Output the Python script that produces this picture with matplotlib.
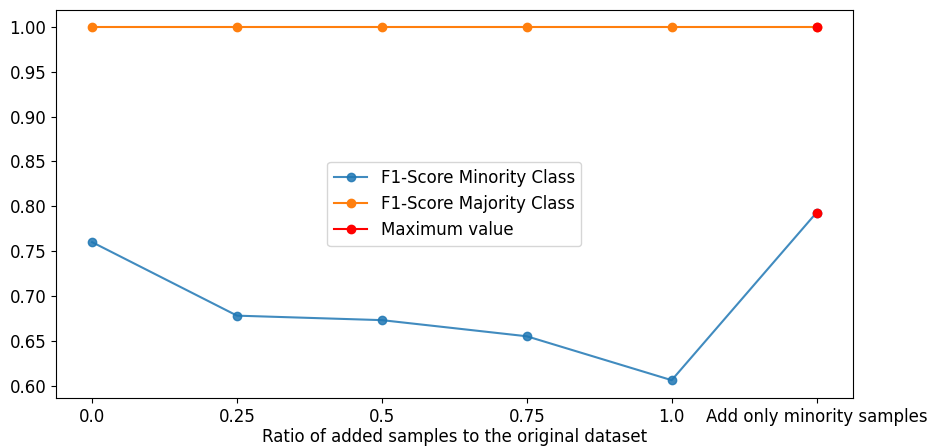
import matplotlib
matplotlib.use("Agg")
import matplotlib.pyplot as plt

# F1 scores per oversampling ratio
ratios = ["0.0", "0.25", "0.5", "0.75", "1.0", "Add only minority samples"]
f1_minority = [0.760, 0.678, 0.673, 0.655, 0.606, 0.793]
f1_majority = [0.9995, 0.9995, 0.9995, 0.9995, 0.9995, 0.9995]

x = list(range(len(ratios)))
best_minority = max(range(len(f1_minority)), key=lambda i: f1_minority[i])
best_majority = len(f1_majority) - 1

plt.rcParams["font.size"] = 12
fig = plt.figure(figsize=(9.32, 4.48), dpi=100)
ax = fig.add_axes([0.060, 0.112, 0.855, 0.866])

ax.plot(x, f1_minority, marker="o", color="#1f77b4", alpha=0.85, label="F1-Score Minority Class")
ax.plot(x, f1_majority, marker="o", color="#ff7f0e", label="F1-Score Majority Class")
ax.plot([x[best_minority]], [f1_minority[best_minority]], marker="o", color="red", label="Maximum value")
ax.plot([x[best_majority]], [f1_majority[best_majority]], marker="o", color="red")

ax.set_xticks(x)
ax.set_xticklabels(ratios)
ax.set_xlabel("Ratio of added samples to the original dataset", labelpad=2)
ax.legend(loc="center")

fig.savefig("out.png", dpi=100)
